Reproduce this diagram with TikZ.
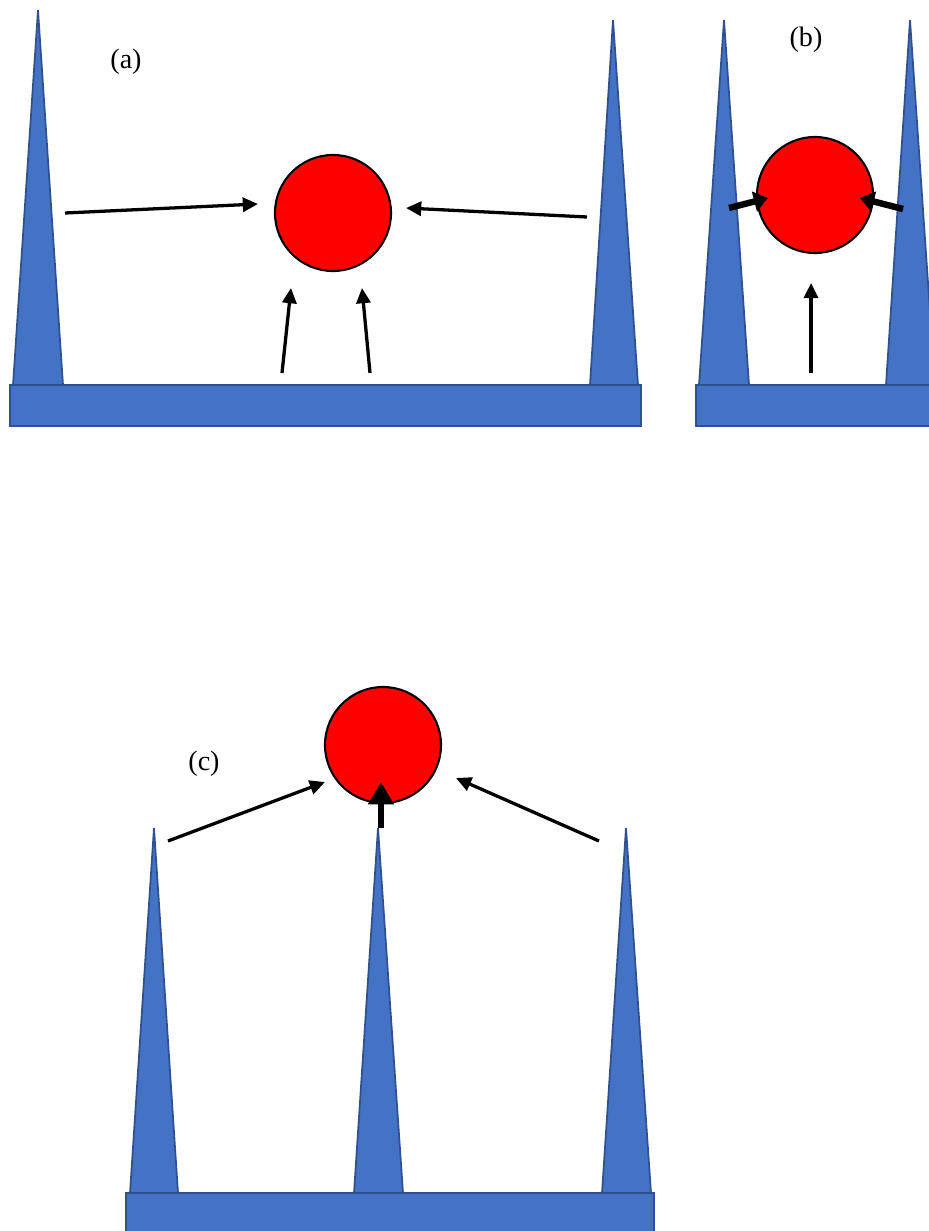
\documentclass[tikz,border=0pt]{standalone}
\usepackage{fontspec}
\setmainfont{Liberation Serif}
\usetikzlibrary{arrows.meta}
\definecolor{spikeblue}{HTML}{4472C4}
\definecolor{spikeedge}{HTML}{2F528F}
\begin{document}
\begin{tikzpicture}[x=0.03cm,y=-0.03cm,
  ball/.style={circle,draw,line width=1.8pt,fill=red,minimum size=3.48cm,inner sep=0pt},
  spike/.style={fill=spikeblue,draw=spikeedge,line width=1.5pt},
  push/.style={-{Triangle[length=13pt,width=12pt]},line width=2.8pt},
  bigpush/.style={-{Triangle[length=12pt,width=17pt]},line width=5.5pt},
  lab/.style={font=\fontsize{24}{27}\selectfont}]
\useasboundingbox (0,0) rectangle (929,1231);

\draw[spike](13,385)--(38,10)--(63,385)--cycle;
\draw[spike](590,385)--(613,20)--(638,385)--cycle;
\draw[spike](10,385) rectangle (641,426);
\node[ball] (A1) at (333,213){};
\node[lab] (A2) at (126,62){(a)};
\coordinate (a1) at (65,213);
\coordinate (a2) at (258,204);
\coordinate (a3) at (587,217);
\coordinate (a4) at (406,208);
\coordinate (a5) at (282,373);
\coordinate (a6) at (291,288);
\coordinate (a7) at (370,373);
\coordinate (a8) at (362,288);
\draw[push](a1)--(a2);
\draw[push](a3)--(a4);
\draw[push](a5)--(a6);
\draw[push](a7)--(a8);

\draw[spike](699,385)--(724,20)--(749,385)--cycle;
\draw[spike](886,385)--(910,20)--(935,385)--cycle;
\draw[spike](696,385) rectangle (945,426);
\node[ball] (B1) at (815,195){};
\node[lab] (B2) at (806,40){(b)};
\coordinate (b1) at (729,208);
\coordinate (b2) at (768,198);
\coordinate (b3) at (903,209);
\coordinate (b4) at (860,198);
\coordinate (b5) at (811,373);
\coordinate (b6) at (811,283);
\draw[bigpush](b1)--(b2);
\draw[bigpush](b3)--(b4);
\draw[push](b5)--(b6);

\draw[spike](130,1193)--(154,828)--(178,1193)--cycle;
\draw[spike](354,1193)--(378,828)--(403,1193)--cycle;
\draw[spike](602,1193)--(626,828)--(651,1193)--cycle;
\draw[spike](126,1193) rectangle (654,1245);
\node[ball] (C1) at (383,745){};
\node[lab] (C2) at (204,764){(c)};
\coordinate (c1) at (168,841);
\coordinate (c2) at (325,782);
\coordinate (c3) at (599,841);
\coordinate (c4) at (456,778);
\coordinate (c5) at (381,828);
\coordinate (c6) at (381,782);
\draw[push](c1)--(c2);
\draw[push](c3)--(c4);
\draw[-{Triangle[length=19pt,width=21pt]},line width=5.8pt](c5)--(c6);
\end{tikzpicture}
\end{document}
